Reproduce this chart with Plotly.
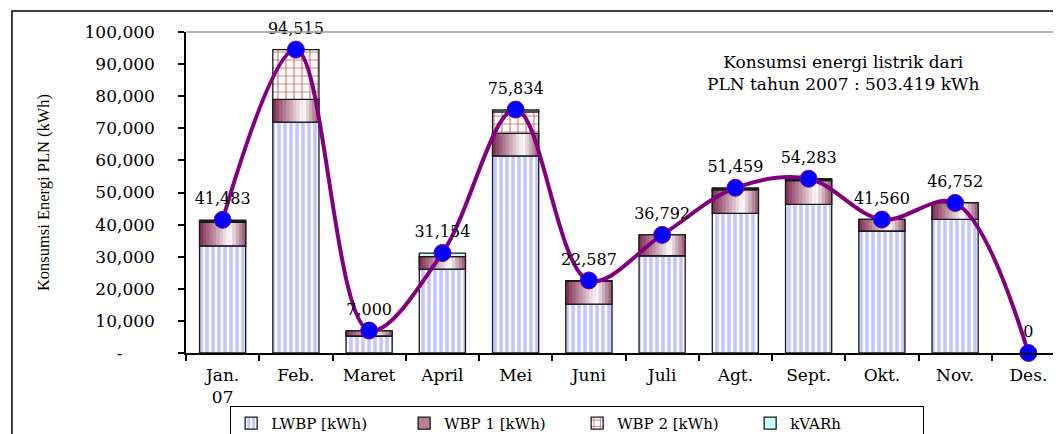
import plotly.graph_objects as go

# ---------------- data ----------------
months = ["Jan.<br>07", "Feb.", "Maret", "April", "Mei", "Juni", "Juli",
          "Agt.", "Sept.", "Okt.", "Nov.", "Des."]
totals = [41483, 94515, 7000, 31154, 75834, 22587, 36792, 51459, 54283, 41560, 46752, 0]
lwbp = [33400, 71900, 5300, 26100, 61400, 15200, 30300, 43500, 46300, 38000, 41600, 0]
wbp1 = [7300, 7100, 1600, 3900, 7000, 7200, 6500, 7300, 7400, 3600, 5200, 0]
wbp2 = [400, 15500, 0, 0, 6700, 0, 0, 300, 300, 0, 0, 0]
kvarh = [300, 0, 0, 1100, 600, 100, 0, 300, 300, 0, 0, 0]
y_ticks = [0, 10000, 20000, 30000, 40000, 50000, 60000, 70000, 80000, 90000, 100000]
note_text = "Konsumsi energi listrik dari<br>PLN tahun 2007 : 503.419 kWh"
y_title = "Konsumsi Energi PLN (kWh)"
legend_names = ["LWBP [kWh)", "WBP 1 [kWh)", "WBP 2 [kWh)", "kVARh"]

# ---------------- style ----------------
SERIF = "DejaVu Serif"
BAR_W = 0.63
OUTLINE = dict(color="#1a1a1a", width=1.3)


def nz(vals):
    return [v if v else None for v in vals]


base_wbp1 = lwbp
base_wbp2 = [a + b for a, b in zip(lwbp, wbp1)]
base_kvarh = [a + b + c for a, b, c in zip(lwbp, wbp1, wbp2)]

fig = go.Figure()

# LWBP - vertical blue stripes
fig.add_trace(go.Bar(
    x=months, y=nz(lwbp), base=0, width=BAR_W, name=legend_names[0],
    marker=dict(color="white", line=OUTLINE,
                pattern=dict(shape="|", fgcolor="#8c8cff", bgcolor="white",
                             size=6, solidity=0.6)),
    hoverinfo="skip"))

# WBP 1 - base bar (legend entry) with gradient slices on top
fig.add_trace(go.Bar(
    x=months, y=nz(wbp1), base=base_wbp1, width=BAR_W, name=legend_names[1],
    marker=dict(color="#b97f95", line=OUTLINE), hoverinfo="skip"))


def mix(c1, c2, t):
    return tuple(round(a + (b - a) * t) for a, b in zip(c1, c2))


dark = (128, 40, 78)
white = (255, 255, 255)
right = (150, 80, 110)
N = 14
for i in range(N):
    t = (i + 0.5) / N
    if t < 0.66:
        c = mix(dark, white, t / 0.66)
    else:
        c = mix(white, right, (t - 0.66) / 0.34)
    fig.add_trace(go.Bar(
        x=months, y=nz(wbp1), base=base_wbp1,
        width=BAR_W / N * 1.08, offset=-BAR_W / 2 + i * BAR_W / N,
        marker=dict(color="rgb(%d,%d,%d)" % c, line=dict(width=0)),
        showlegend=False, hoverinfo="skip"))

fig.add_trace(go.Bar(
    x=months, y=nz(wbp1), base=base_wbp1, width=BAR_W,
    marker=dict(color="rgba(0,0,0,0)", line=OUTLINE),
    showlegend=False, hoverinfo="skip"))

# WBP 2 - brick-like pattern
fig.add_trace(go.Bar(
    x=months, y=nz(wbp2), base=base_wbp2, width=BAR_W, name=legend_names[2],
    marker=dict(color="white", line=OUTLINE,
                pattern=dict(shape="+", fgcolor="#990000", bgcolor="white",
                             size=8, solidity=0.28)),
    hoverinfo="skip"))

# kVARh
fig.add_trace(go.Bar(
    x=months, y=nz(kvarh), base=base_kvarh, width=BAR_W, name=legend_names[3],
    marker=dict(color="#ccffff", line=OUTLINE), hoverinfo="skip"))

# Total line
fig.add_trace(go.Scatter(
    x=months, y=totals, mode="lines+markers+text",
    text=[f"{v:,}" for v in totals], textposition="top center",
    textfont=dict(family=SERIF, size=16, color="black"),
    line=dict(color="#800080", width=4, shape="spline", smoothing=1.0),
    marker=dict(color="#0000ff", size=17, line=dict(color="#800080", width=1)),
    cliponaxis=False, showlegend=False, hoverinfo="skip"))

fig.update_layout(
    width=1061, height=434,
    margin=dict(l=178, r=4, t=24, b=89, autoexpand=False),
    barmode="overlay",
    paper_bgcolor="white", plot_bgcolor="white",
    font=dict(family=SERIF, color="black"),
    showlegend=True,
    legend=dict(orientation="h", x=0.445, xanchor="center", y=-0.165, yanchor="top",
                bordercolor="black", borderwidth=1, bgcolor="white",
                font=dict(family=SERIF, size=15, color="black"),
                itemwidth=30, tracegroupgap=0,
                entrywidth=128, entrywidthmode="pixels"),
    xaxis=dict(type="category", range=[-0.5, 11.5], autorange=False,
               showline=True, linecolor="black", linewidth=1.5,
               ticks="outside", tickson="boundaries", ticklen=6, tickcolor="black",
               tickwidth=1.5, showgrid=False, automargin=False,
               tickfont=dict(family=SERIF, size=17, color="black"),
               ticklabelstandoff=6),
    yaxis=dict(range=[0, 100000], autorange=False, tickvals=y_ticks,
               ticktext=[("-" + "\u00a0" * 6) if v == 0 else f"{v:,}" for v in y_ticks],
               showline=True, linecolor="black", linewidth=1.5,
               ticks="outside", ticklen=6, tickcolor="black", tickwidth=1.5,
               showgrid=False, zeroline=False, automargin=False,
               tickfont=dict(family=SERIF, size=17, color="black"),
               ticklabelstandoff=20),
    annotations=[
        dict(text=note_text, xref="paper", yref="paper", x=0.748, y=0.873,
             xanchor="center", yanchor="middle", showarrow=False, align="center",
             font=dict(family=SERIF, size=17, color="black")),
        dict(text=y_title, xref="paper", yref="paper", x=-0.162, y=0.5,
             xanchor="center", yanchor="middle", showarrow=False, textangle=-90,
             font=dict(family="Liberation Serif", size=16.5, color="black")),
    ],
    shapes=[
        # plot area top border (grey)
        dict(type="line", xref="paper", yref="paper", x0=0, x1=1, y0=1, y1=1,
             line=dict(color="#9a9a9a", width=1.5)),
        # outer chart frame
        dict(type="rect", xref="paper", yref="paper", x0=-0.198, x1=1.05,
             y0=-0.4, y1=1.0654, line=dict(color="black", width=1.5),
             fillcolor="rgba(0,0,0,0)"),
    ],
)

fig.write_html("out.html")
